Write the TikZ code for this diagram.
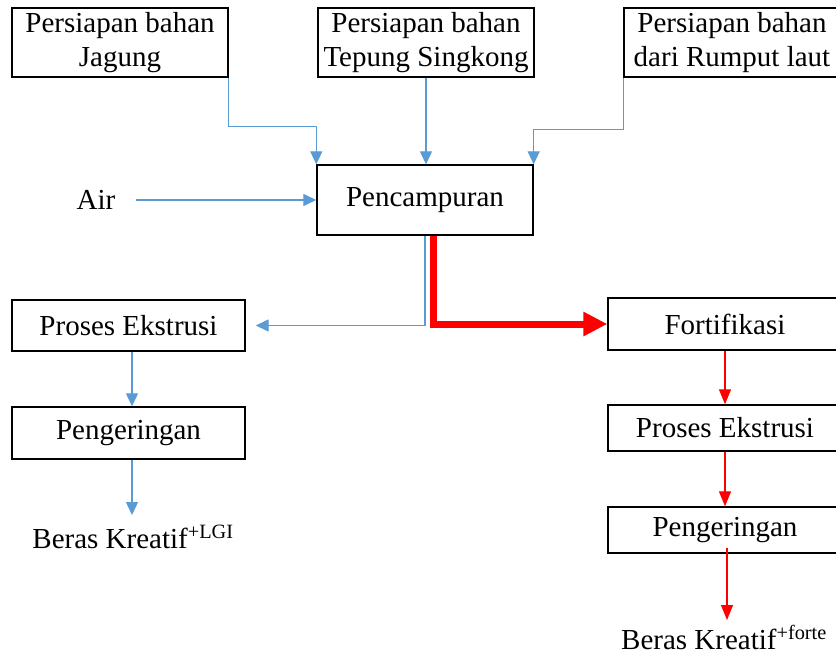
\documentclass[tikz,border=0pt]{standalone}
\usepackage{fontspec}
\setmainfont{Liberation Serif}
\usetikzlibrary{arrows.meta,calc}
\definecolor{lblue}{RGB}{91,155,213}
\definecolor{pred}{RGB}{255,0,0}
\begin{document}
\begin{tikzpicture}[x=1pt,y=-1pt,
  txt/.style={font=\fontsize{29}{34}\selectfont, align=center, inner sep=0pt},
  lbl/.style={font=\fontsize{29}{34}\selectfont, inner sep=0pt, anchor=base},
  box/.style={txt, draw=black, line width=1.4pt},
  bluearrow/.style={draw=lblue, line width=1.3pt, -{Triangle[length=13pt,width=12pt]}},
  redarrow/.style={draw=pred, line width=1.2pt, -{Triangle[length=15pt,width=12pt]}},
  bigred/.style={draw=pred, line width=7pt, line join=miter, -{Triangle[length=24pt,width=23pt]}}]
\useasboundingbox (0,0) rectangle (836,656);
\clip (0,0) rectangle (836,656);
\fill[white] (0,0) rectangle (836,656);
% boxes
\node[box, minimum width=216pt, minimum height=69pt] (j) at (120,42.5) {Persiapan bahan\\Jagung};
\node[box, minimum width=216pt, minimum height=69pt] (t) at (426,42.5) {Persiapan bahan\\Tepung Singkong};
\node[box, minimum width=216pt, minimum height=69pt] (r) at (732,42.5) {Persiapan bahan\\dari Rumput laut};
\node[box, minimum width=216pt, minimum height=70pt] (p) at (425,200) {Pencampuran};
\node[lbl] (air) at (96,209) {Air};
\node[box, minimum width=233pt, minimum height=51pt] (pe1) at (128.5,325.5) {Proses Ekstrusi};
\node[box, minimum width=233pt, minimum height=52pt] (pg1) at (128.5,433) {Pengeringan};
\node[lbl] (b1) at (133,548) {Beras Kreatif\textsuperscript{+LGI}};
\node[box, minimum width=234pt, minimum height=52pt] (fort) at (725,324) {Fortifikasi};
\node[box, minimum width=234pt, minimum height=46pt] (pe2) at (725,428) {Proses Ekstrusi};
\node[box, minimum width=234pt, minimum height=46pt] (pg2) at (725,530) {Pengeringan};
\node[lbl] (b2) at (724,649) {Beras Kreatif\textsuperscript{+forte}};
\coordinate (aire) at (136,200);
\coordinate (e1) at (132,515);
\coordinate (e2) at (727,620);
% connectors
\draw[bluearrow] (j.south east) -- ++(0,49) -| (p.north west);
\draw[bluearrow] (t.south) -- (t.south |- p.north);
\draw[bluearrow] (r.south west) -- ++(0,52) -| (p.north east);
\draw[bluearrow] (aire) -- (p.west);
\draw[bluearrow] (p.south) |- ([xshift=10pt]pe1.east);
\draw[bigred] ([xshift=8pt]p.south) |- (fort.west);
\draw[bluearrow] ([xshift=3.5pt]pe1.south) -- ([xshift=3.5pt]pg1.north);
\draw[bluearrow] ([xshift=3.5pt]pg1.south) -- (e1);
\draw[redarrow] (fort.south) -- (pe2.north);
\draw[redarrow] (pe2.south) -- (pg2.north);
\draw[redarrow] ([xshift=2pt,yshift=6pt]pg2.south) -- (e2);
\end{tikzpicture}
\end{document}
